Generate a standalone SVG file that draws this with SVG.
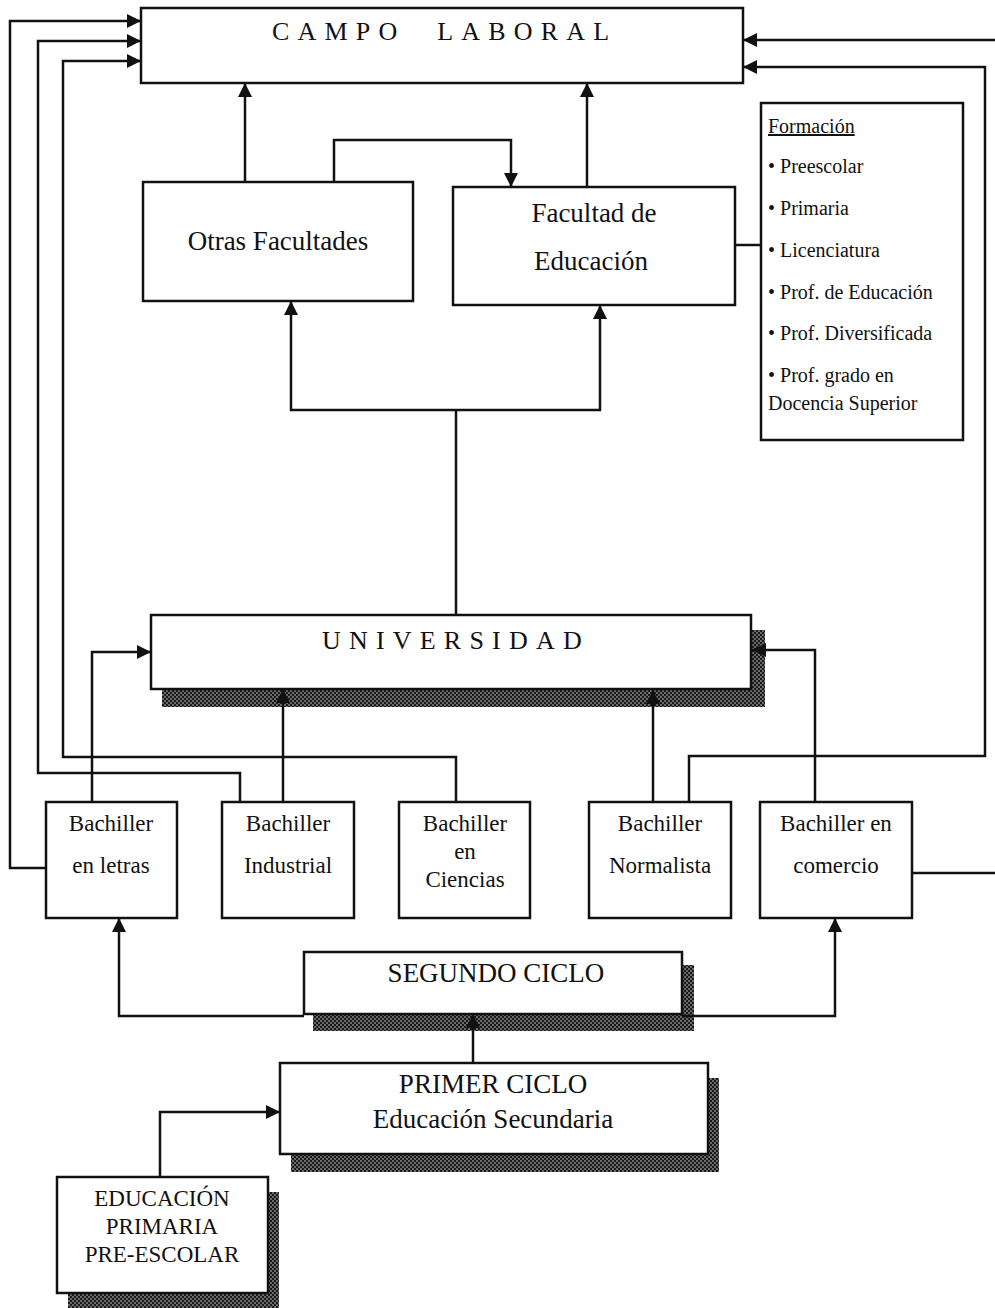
<svg xmlns="http://www.w3.org/2000/svg" width="995" height="1308" viewBox="0 0 995 1308">
<style>
  text { font-family: "Liberation Serif", "Times New Roman", serif; fill: #111; }
  .box { fill: #fff; stroke: #111; stroke-width: 2.5; }
  .shadow { fill: url(#hatch); }
  .lbl { font-size: 23px; text-anchor: middle; }
  .big { font-size: 27px; text-anchor: middle; }
  .caps { font-size: 26px; letter-spacing: 8.2px; word-spacing: 17px; }
  .form { font-size: 20px; }
  .conn path { fill: none; stroke: #111; stroke-width: 2.5; }
</style>
<defs>
  <pattern id="hatch" width="4" height="4" patternUnits="userSpaceOnUse">
    <rect width="4" height="4" fill="#1a1a1a"/>
    <circle cx="1" cy="1" r="0.65" fill="#fff"/>
    <circle cx="3" cy="3" r="0.65" fill="#fff"/>
  </pattern>
  <marker id="arr" markerUnits="userSpaceOnUse" markerWidth="15" markerHeight="15" refX="14" refY="7" orient="auto">
    <path d="M0,0 L14,7 L0,14 z" fill="#111"/>
  </marker>
</defs>

<g id="campo-laboral">
  <rect class="box" x="141" y="8" width="602" height="75"/>
  <text class="caps" x="272" y="40">CAMPO LABORAL</text>
</g>

<g id="otras-facultades">
  <rect class="box" x="143" y="182" width="270" height="119"/>
  <text class="big" x="278" y="250">Otras Facultades</text>
</g>

<g id="facultad-educacion">
  <rect class="box" x="453" y="187" width="282" height="118"/>
  <text class="big" x="594" y="222">Facultad de</text>
  <text class="big" x="591" y="270">Educación</text>
</g>

<g id="formacion">
  <rect class="box" x="761" y="103" width="202" height="337"/>
  <text class="form" x="768" y="133" text-decoration="underline">Formación</text>
  <text class="form" x="768" y="173">• Preescolar</text>
  <text class="form" x="768" y="215">• Primaria</text>
  <text class="form" x="768" y="257">• Licenciatura</text>
  <text class="form" x="768" y="299">• Prof. de Educación</text>
  <text class="form" x="768" y="340">• Prof. Diversificada</text>
  <text class="form" x="768" y="382">• Prof. grado en</text>
  <text class="form" x="768" y="410">Docencia Superior</text>
</g>

<g id="universidad">
  <rect class="shadow" x="162" y="630" width="603" height="77"/>
  <rect class="box" x="151" y="615" width="600" height="74"/>
  <text class="caps" x="322" y="649">UNIVERSIDAD</text>
</g>

<g id="bachiller-letras">
  <rect class="box" x="46" y="802" width="131" height="116"/>
  <text class="lbl" x="111" y="831">Bachiller</text>
  <text class="lbl" x="111" y="873">en letras</text>
</g>
<g id="bachiller-industrial">
  <rect class="box" x="222" y="802" width="132" height="116"/>
  <text class="lbl" x="288" y="831">Bachiller</text>
  <text class="lbl" x="288" y="873">Industrial</text>
</g>
<g id="bachiller-ciencias">
  <rect class="box" x="399" y="802" width="131" height="116"/>
  <text class="lbl" x="465" y="831">Bachiller</text>
  <text class="lbl" x="465" y="859">en</text>
  <text class="lbl" x="465" y="887">Ciencias</text>
</g>
<g id="bachiller-normalista">
  <rect class="box" x="589" y="802" width="142" height="116"/>
  <text class="lbl" x="660" y="831">Bachiller</text>
  <text class="lbl" x="660" y="873">Normalista</text>
</g>
<g id="bachiller-comercio">
  <rect class="box" x="760" y="802" width="152" height="116"/>
  <text class="lbl" x="836" y="831">Bachiller en</text>
  <text class="lbl" x="836" y="873">comercio</text>
</g>

<g id="segundo-ciclo">
  <rect class="shadow" x="313" y="965" width="381" height="66"/>
  <rect class="box" x="304" y="952" width="378" height="62"/>
  <text class="big" x="496" y="982">SEGUNDO CICLO</text>
</g>

<g id="primer-ciclo">
  <rect class="shadow" x="291" y="1078" width="428" height="94"/>
  <rect class="box" x="280" y="1063" width="428" height="91"/>
  <text class="big" x="493" y="1093">PRIMER CICLO</text>
  <text class="big" x="493" y="1128">Educación Secundaria</text>
</g>

<g id="educacion-primaria">
  <rect class="shadow" x="68" y="1192" width="211" height="116"/>
  <rect class="box" x="57" y="1177" width="211" height="116"/>
  <text class="lbl" x="162" y="1206">EDUCACIÓN</text>
  <text class="lbl" x="162" y="1234">PRIMARIA</text>
  <text class="lbl" x="162" y="1262">PRE-ESCOLAR</text>
</g>

<g id="connectors" class="conn">
  <path d="M46,868 H10 V21 H141" marker-end="url(#arr)"/>
  <path d="M240,802 V773 H38 V41 H141" marker-end="url(#arr)"/>
  <path d="M456,802 V757 H63 V61 H141" marker-end="url(#arr)"/>
  <path d="M92,802 V652 H151" marker-end="url(#arr)"/>
  <path d="M283,802 V689" marker-end="url(#arr)"/>
  <path d="M653,802 V690" marker-end="url(#arr)"/>
  <path d="M815,802 V650 H752" marker-end="url(#arr)"/>
  <path d="M689,802 V756 H985 V67 H743" marker-end="url(#arr)"/>
  <path d="M995,40 H743" marker-end="url(#arr)"/>
  <path d="M912,873 H995"/>
  <path d="M245,182 V83" marker-end="url(#arr)"/>
  <path d="M587,187 V83" marker-end="url(#arr)"/>
  <path d="M334,182 V140 H511 V187" marker-end="url(#arr)"/>
  <path d="M456,615 V410"/>
  <path d="M456,410 H291 V301" marker-end="url(#arr)"/>
  <path d="M456,410 H600 V305" marker-end="url(#arr)"/>
  <path d="M735,245 H761"/>
  <path d="M304,1016 H119 V918" marker-end="url(#arr)"/>
  <path d="M682,1016 H835 V918" marker-end="url(#arr)"/>
  <path d="M473,1063 V1014" marker-end="url(#arr)"/>
  <path d="M160,1177 V1112 H280" marker-end="url(#arr)"/>
</g>
</svg>
